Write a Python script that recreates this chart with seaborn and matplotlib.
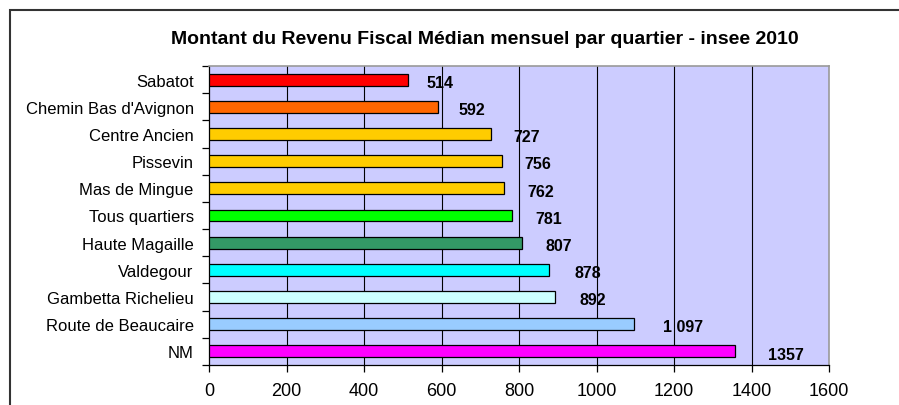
import matplotlib
matplotlib.use('Agg')
import matplotlib.pyplot as plt
import seaborn as sns
from matplotlib.patches import Rectangle
from matplotlib.ticker import FixedLocator

quartiers = ['Sabatot', "Chemin Bas d'Avignon", 'Centre Ancien', 'Pissevin',
             'Mas de Mingue', 'Tous quartiers', 'Haute Magaille', 'Valdegour',
             'Gambetta Richelieu', 'Route de Beaucaire', 'NM']
revenu = [514, 592, 727, 756, 762, 781, 807, 878, 892, 1097, 1357]
etiquettes = ['514', '592', '727', '756', '762', '781', '807', '878', '892', '1 097', '1357']
couleurs = ['#FF0000', '#FF6600', '#FFCC00', '#FFCC00', '#FFCC00', '#00FF00',
            '#339966', '#00FFFF', '#CCFFFF', '#99CCFF', '#FF00FF']

sns.set_style('white')
plt.rcParams['font.family'] = ['Liberation Sans', 'DejaVu Sans']
plt.rcParams['text.color'] = 'black'
plt.rcParams['xtick.color'] = 'black'
plt.rcParams['ytick.color'] = 'black'

fig = plt.figure(figsize=(8.99, 4.06), dpi=100)
ax = fig.add_axes([209/899, 1 - 366/406, 620/899, 299/406])
ax.set_facecolor('#CCCCFF')

sns.barplot(x=revenu, y=quartiers, hue=quartiers, palette=couleurs, legend=False,
            orient='h', width=0.44, edgecolor='black', linewidth=0.9, saturation=1,
            ax=ax, zorder=3)

ax.set_xlim(0, 1600)
ax.set_ylim(10.5, -0.5)
ax.set_xticks(range(0, 1601, 200))
for gx in range(200, 1600, 200):
    ax.axvline(gx, color='black', lw=0.8, zorder=1)

# labels de valeur
for i, (v, t) in enumerate(zip(revenu, etiquettes)):
    ax.text(v * 1.045 + 25, i + 0.1, t, fontsize=11.5, fontweight='bold',
            va='center', ha='left', color='black', zorder=4)

ax.set_xlabel('')
ax.set_ylabel('')
ax.tick_params(axis='x', direction='out', length=5, width=0.9,
               labelsize=13, pad=7, bottom=True)
ax.tick_params(axis='y', which='major', length=0, labelsize=12, pad=11)
ax.yaxis.set_minor_locator(FixedLocator([k - 0.5 for k in range(12)]))
ax.tick_params(axis='y', which='minor', direction='out', length=5, width=0.9,
               left=True)

for s in ['left', 'bottom']:
    ax.spines[s].set_color('black')
    ax.spines[s].set_linewidth(0.9)
for s in ['top', 'right']:
    ax.spines[s].set_color('#999999')
    ax.spines[s].set_linewidth(1.2)

fig.text(485/899, 1 - 40/406,
         'Montant du Revenu Fiscal Médian mensuel par quartier - insee 2010',
         ha='center', va='center', fontsize=14, fontweight='bold')

# cadre du graphique
fig.patches.append(Rectangle((10/899, -0.3), 1.3, 1.3 - 11/406,
                             transform=fig.transFigure, fill=False,
                             edgecolor='#333333', linewidth=1.5))

fig.savefig('out.png', dpi=100)
